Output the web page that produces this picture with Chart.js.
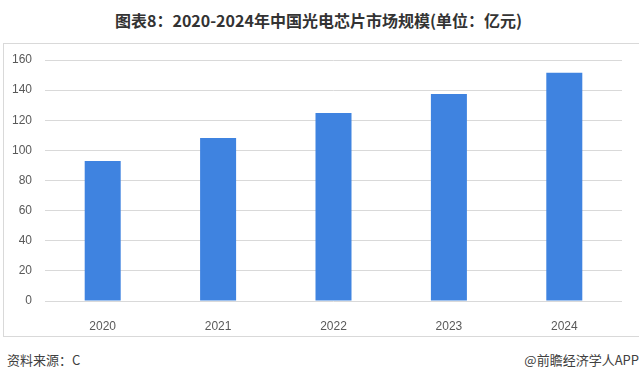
<!DOCTYPE html>
<html>
<head>
<meta charset="utf-8">
<script src="https://cdn.jsdelivr.net/npm/chart.js@4/dist/chart.umd.min.js"></script>
<style>
    body { margin: 0; background: #fff; width: 639px; height: 380px; position: relative; overflow: hidden; }
    #title {
        position: absolute; left: 0; width: 637px; top: 8px; text-align: center;
        font: bold 16px "Noto Sans CJK SC", sans-serif; color: #333;
        white-space: nowrap;
    }
    #box {
        position: absolute; left: 3px; top: 43px; width: 635px; height: 292px;
        border: 1px solid #d9d9d9;
    }
    .foot {
        position: absolute; top: 350px;
        font: 13px "Noto Sans CJK SC", sans-serif; color: #404040;
    }
</style>
</head>
<body>
<div id="title">图表8：2020-2024年中国光电芯片市场规模(单位：亿元)</div>
<div id="box"><canvas id="marketChart" width="635" height="292"></canvas></div>
<div class="foot" style="left:7px">资料来源：C</div>
<div class="foot" style="right:0">@前瞻经济学人APP</div>
<script>
const years = ['2020', '2021', '2022', '2023', '2024'];
const marketSize = [92.9, 108.2, 124.8, 137.4, 151.6];
const yTicks = [0, 20, 40, 60, 80, 100, 120, 140, 160];

const ctx = document.getElementById('marketChart').getContext('2d');
new Chart(ctx, {
    type: 'bar',
    data: {
        labels: years,
        datasets: [{
            data: marketSize,
            backgroundColor: '#3f83e0',
            categoryPercentage: 1,
            barPercentage: 0.312
        }]
    },
    options: {
        responsive: false,
        animation: false,
        layout: { padding: { left: 0, right: 17, top: 16, bottom: 0 } },
        plugins: { legend: { display: false }, tooltip: { enabled: false } },
        scales: {
            x: {
                grid: { display: false },
                border: { display: false },
                ticks: { color: '#595959', font: { family: 'Liberation Sans', size: 12 }, padding: 10 },
                afterFit: scale => { scale.height = 35; }
            },
            y: {
                min: 0,
                max: 160,
                afterBuildTicks: scale => { scale.ticks = yTicks.map(v => ({ value: v })); },
                grid: { color: '#d9d9d9', drawTicks: false },
                border: { display: false },
                ticks: { color: '#595959', font: { family: 'Liberation Sans', size: 12 }, padding: 13 },
                afterFit: scale => {
                    // keep the plot area where the reference has it
                    scale.width = 41;
                    scale.paddingTop = 0;
                    scale.paddingBottom = 0;
                }
            }
        }
    }
});
</script>
</body>
</html>
